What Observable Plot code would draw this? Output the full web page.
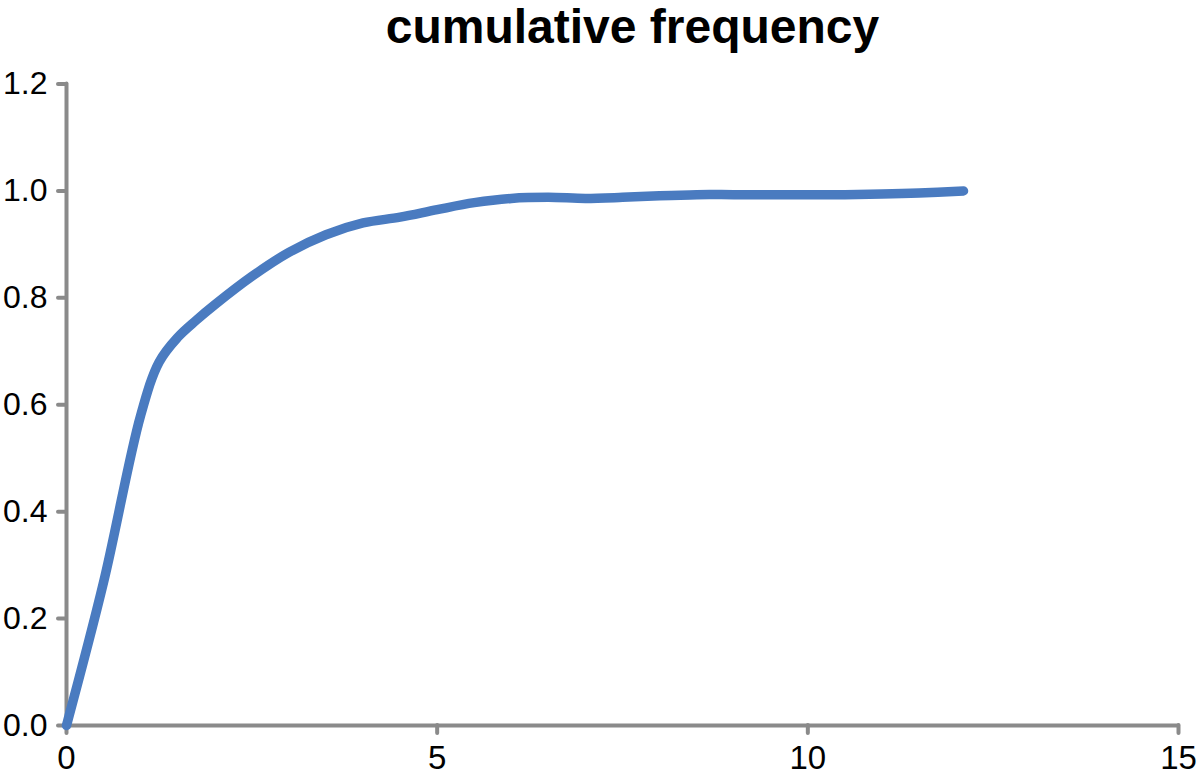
<!DOCTYPE html>
<html>
<head>
<meta charset="utf-8">
<script src="https://cdn.jsdelivr.net/npm/d3@7"></script>
<script src="https://cdn.jsdelivr.net/npm/@observablehq/plot@0.6"></script>
<style>
  html, body { margin: 0; padding: 0; background: #fff; overflow: hidden; }
  #title {
    position: absolute; left: 0; top: 0; width: 1200px; height: 60px;
    font-family: "Liberation Sans", Arial, Helvetica, sans-serif;
    font-weight: bold; font-size: 48px; line-height: 48px;
    text-align: center; padding-left: 65px; box-sizing: border-box; padding-top: 3px;
    color: #000;
  }
  #chart { position: absolute; left: 0; top: 60px; }
</style>
</head>
<body>
<div id="title">cumulative frequency</div>
<div id="chart"></div>
<script>
// Data
const xValues = [0, 0.5, 1, 1.25, 1.5, 1.75, 2, 2.5, 3, 3.5, 4, 4.5, 5, 5.5, 6, 6.5, 7, 7.5, 8, 8.5, 9, 9.5, 10, 10.5, 11, 11.5, 12.1];
const cumFreq = [0, 0.268, 0.58, 0.68, 0.726, 0.758, 0.787, 0.84, 0.885, 0.918, 0.94, 0.951, 0.965, 0.978, 0.986, 0.988, 0.986, 0.988, 0.991, 0.993, 0.993, 0.993, 0.993, 0.993, 0.994, 0.996, 1.0];
const xTicks = [0, 5, 10, 15];
const yTicks = [0, 0.2, 0.4, 0.6, 0.8, 1.0, 1.2];

const data = xValues.map((x, i) => ({x, y: cumFreq[i]}));

const axisGray = "#8a8a8a";
const plot = Plot.plot({
  width: 1200,
  height: 722,
  marginTop: 23.5,
  marginBottom: 57,
  marginLeft: 66,
  marginRight: 22,
  style: {fontFamily: "'Liberation Sans', Arial, Helvetica, sans-serif", fontSize: "33px", color: "#000", background: "#fff", overflow: "visible"},
  x: {domain: [0, 15]},
  y: {domain: [0, 1.2]},
  marks: [
    Plot.axisX(xTicks, {tickSize: 8, tickPadding: 12, stroke: axisGray, strokeWidth: 4, strokeLinecap: "round", fill: "#000", fontSize: 33, label: null, tickFormat: d => String(d)}),
    Plot.axisY(yTicks, {tickSize: 8, tickPadding: 11, stroke: axisGray, strokeWidth: 4, strokeLinecap: "round", fill: "#000", fontSize: 32, label: null, tickFormat: d3.format(".1f")}),
    Plot.ruleX([0], {y1: 0, y2: 1.2, stroke: axisGray, strokeWidth: 4, strokeLinecap: "round"}),
    Plot.ruleY([0], {x1: 0, x2: 15, stroke: axisGray, strokeWidth: 4, strokeLinecap: "round"}),
    Plot.line(data, {x: "x", y: "y", stroke: "#4a7bc0", strokeWidth: 9.5, strokeLinecap: "round", strokeLinejoin: "round", curve: "catmull-rom"})
  ]
});
document.getElementById("chart").appendChild(plot);
</script>
</body>
</html>
